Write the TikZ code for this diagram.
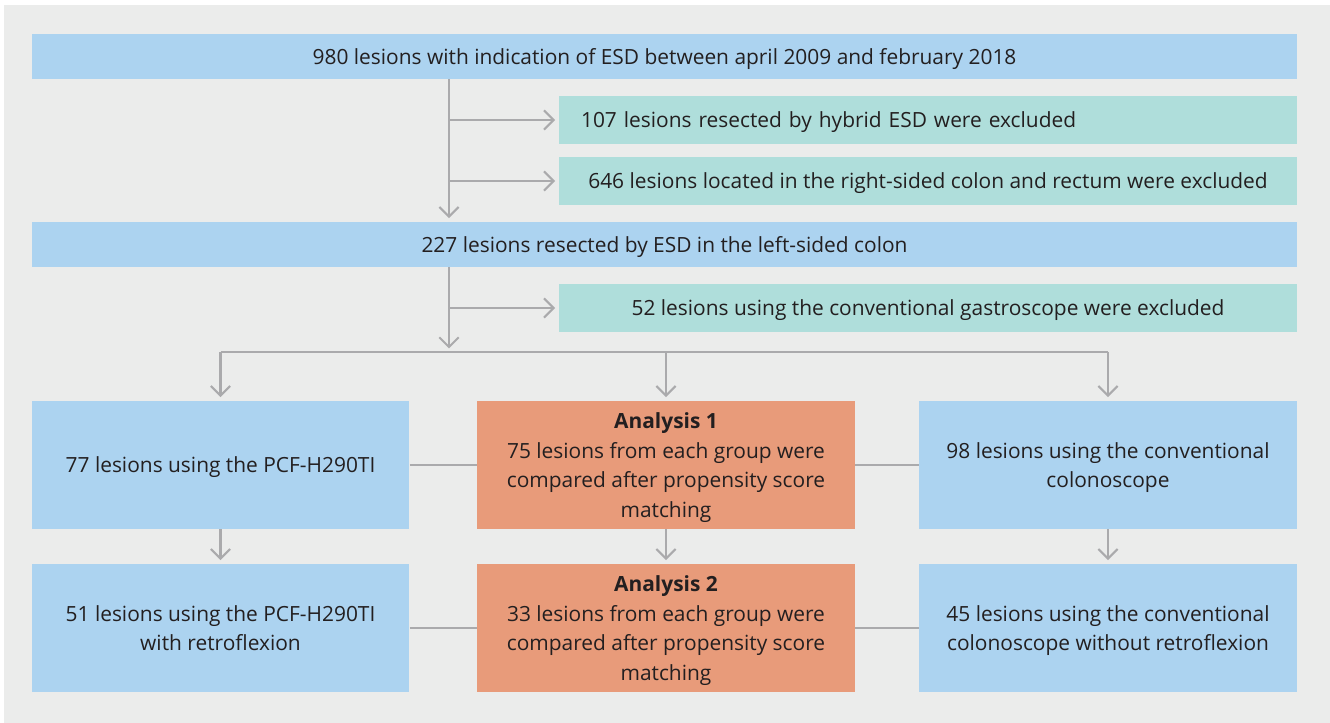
\documentclass[tikz,border=0pt]{standalone}
\usepackage{fontspec}
\setsansfont{Open Sans}
\usetikzlibrary{arrows.meta, positioning, calc}
\definecolor{cPanel}{RGB}{235, 236, 235}
\definecolor{cStep}{RGB}{172, 211, 240}
\definecolor{cExcl}{RGB}{175, 222, 219}
\definecolor{cMatch}{RGB}{232, 155, 122}
\definecolor{cLink}{RGB}{170, 170, 172}
\definecolor{tDark}{RGB}{35, 31, 32}

\begin{document}
\begin{tikzpicture}[
    x=0.02cm, y=-0.02cm,
    font=\sffamily\fontsize{11.9}{16.8}\selectfont,
    text=tDark,
    block/.style={
        fill=#1,
        draw=none,
        align=center,
        text depth=0pt,
        inner sep=0pt
    },
    wide/.style={block=cStep, minimum width=25.3cm, minimum height=0.9cm},
    excl/.style={block=cExcl, minimum width=14.76cm, minimum height=0.96cm},
    side/.style={block=cStep, minimum width=7.56cm, minimum height=2.56cm},
    match/.style={block=cMatch, minimum width=7.56cm, minimum height=2.56cm},
    link/.style={line width=1.2pt, color=cLink},
    arrow/.style={link, -{Straight Barb[length=5.5pt, width=11pt]}, shorten >=2pt}
]

% panel
\fill[white] (0, 0) rectangle (1330, 723);
\fill[cPanel] (4, 5) rectangle (1330, 723);

\node[wide] (all) at (664.5, 56.5) {980 lesions with indication of ESD between april 2009 and february 2018};

\node[excl, text width=13.88cm, inner xsep=0.44cm, align=left] (hybrid) at (928, 120) {107 lesions resected by hybrid ESD were excluded};
\node[excl] (right) at (928, 181) {646 lesions located in the right-sided colon and rectum were excluded};

\node[wide] (left) at (664.5, 244.5) {227 lesions resected by ESD in the left-sided colon};

\node[excl] (gastro) at (928, 308) {52 lesions using the conventional gastroscope were excluded};

% first comparison
\node[side] (pcf) at (220.5, 465) {77 lesions using the PCF-H290TI};
\node[match] (ana1) at (666, 465) {\textbf{Analysis 1}\\75 lesions from each group were\\compared after propensity score\\matching};
\node[side] (conv) at (1108, 465) {98 lesions using the conventional\\colonoscope};

% second comparison
\node[side] (pcfr) at (220.5, 628) {51 lesions using the PCF-H290TI\\with retroflexion};
\node[match] (ana2) at (666, 628) {\textbf{Analysis 2}\\33 lesions from each group were\\compared after propensity score\\matching};
\node[side] (convr) at (1108, 628) {45 lesions using the conventional\\colonoscope without retroflexion};

\coordinate (spine) at (449, 0);
\coordinate (split) at (449, 352);

\draw[arrow] (all.south -| spine) -- (left.north -| spine);
\draw[arrow] (spine |- hybrid.west) -- (hybrid.west);
\draw[arrow] (spine |- right.west) -- (right.west);
\draw[arrow] (left.south -| spine) -- (split);
\draw[arrow] (spine |- gastro.west) -- (gastro.west);

\draw[link] (split -| pcf.north) -- (split -| conv.north);
\draw[arrow] (split -| pcf.north) -- (pcf.north);
\draw[arrow] (split -| ana1.north) -- (ana1.north);
\draw[arrow] (split -| conv.north) -- (conv.north);

\draw[link] (pcf) -- (ana1);
\draw[link] (ana1) -- (conv);
\draw[arrow] (pcf) -- (pcfr);
\draw[arrow] (ana1) -- (ana2);
\draw[arrow] (conv) -- (convr);
\draw[link] (pcfr) -- (ana2);
\draw[link] (ana2) -- (convr);

\end{tikzpicture}
\end{document}
